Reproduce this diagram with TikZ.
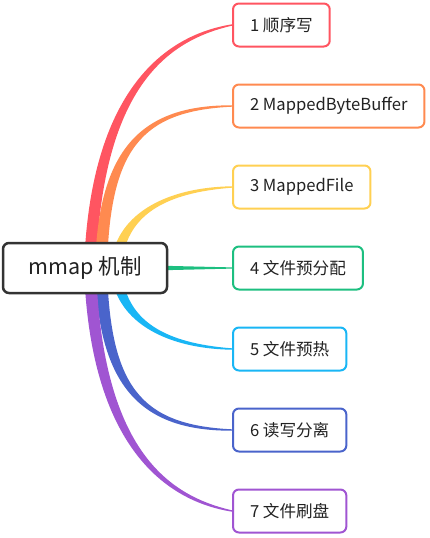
\documentclass[tikz,border=0pt]{standalone}
\usepackage{fontspec}
\setmainfont{Noto Sans CJK SC}
\usetikzlibrary{calc,backgrounds}
\definecolor{cred}{HTML}{FF5561}
\definecolor{corange}{HTML}{FF8A50}
\definecolor{cyellow}{HTML}{FFD052}
\definecolor{cgreen}{HTML}{1DBF80}
\definecolor{ccyan}{HTML}{19B6F5}
\definecolor{cblue}{HTML}{4A64CB}
\definecolor{cpurple}{HTML}{A055D2}
\definecolor{cdark}{HTML}{333333}
\definecolor{ctext}{HTML}{222222}
% color, P0, P1, P2, end node, half width, sign (1 up, -1 down)
\newcommand\mmband[7]{%
  \fill[#1] ($#2+(-#6,0)$) .. controls ($#3+(-#6,0)$) and ($#4+(0,{-(#7)*(#6)/2})$) .. ($(#5.west)+(0,{-(#7)*0.7})$)
    -- ($(#5.west)+(0,{(#7)*0.7})$) .. controls ($#4+(0,{(#7)*(#6)/2})$) and ($#3+(#6,0)$) .. ($#2+(#6,0)$) -- cycle;}
\begin{document}
\begin{tikzpicture}[x=1pt,y=-1pt,
  rootbox/.style={draw=cdark, line width=2.5pt, rounded corners=6pt, fill=white,
    minimum width=164pt, minimum height=50pt, inner sep=0pt,
    font=\fontsize{21.5}{25}\selectfont, text=ctext},
  leaf/.style={draw=#1, line width=2pt, rounded corners=6pt, fill=white,
    minimum height=43pt, inner xsep=17pt, inner ysep=0pt, anchor=west,
    font=\fontsize{16.6}{20}\selectfont, text=ctext}]
\useasboundingbox (0,0) rectangle (429,538);
\node[rootbox] (root) at (85,268) {mmap 机制};
\node[leaf=cred]    (c1) at (232,25)  {1 顺序写};
\node[leaf=corange] (c2) at (232,106) {2 MappedByteBuffer};
\node[leaf=cyellow] (c3) at (232,187) {3 MappedFile};
\node[leaf=cgreen]  (c4) at (232,268) {4 文件预分配};
\node[leaf=ccyan]   (c5) at (232,349) {5 文件预热};
\node[leaf=cblue]   (c6) at (232,430) {6 读写分离};
\node[leaf=cpurple] (c7) at (232,511) {7 文件刷盘};
\begin{scope}[on background layer]
  \mmband{cred}{(90,268)}{(96,90)}{(165,38)}{c1}{6}{1}
  \mmband{corange}{(101,268)}{(104,150)}{(140,108)}{c2}{6}{1}
  \mmband{cyellow}{(116,268)}{(119,215)}{(165,190)}{c3}{5.5}{1}
  \fill[cgreen] ($(root.east)+(-4,-2.2)$) -- ($(c4.west)+(0,-0.6)$) -- ($(c4.west)+(0,0.6)$) -- ($(root.east)+(-4,2.2)$) -- cycle;
  \mmband{ccyan}{(116,268)}{(119,321)}{(165,346)}{c5}{5.5}{-1}
  \mmband{cblue}{(101,268)}{(104,386)}{(140,428)}{c6}{6}{-1}
  \mmband{cpurple}{(90,268)}{(96,446)}{(165,498)}{c7}{6}{-1}
\end{scope}
\end{tikzpicture}
\end{document}
